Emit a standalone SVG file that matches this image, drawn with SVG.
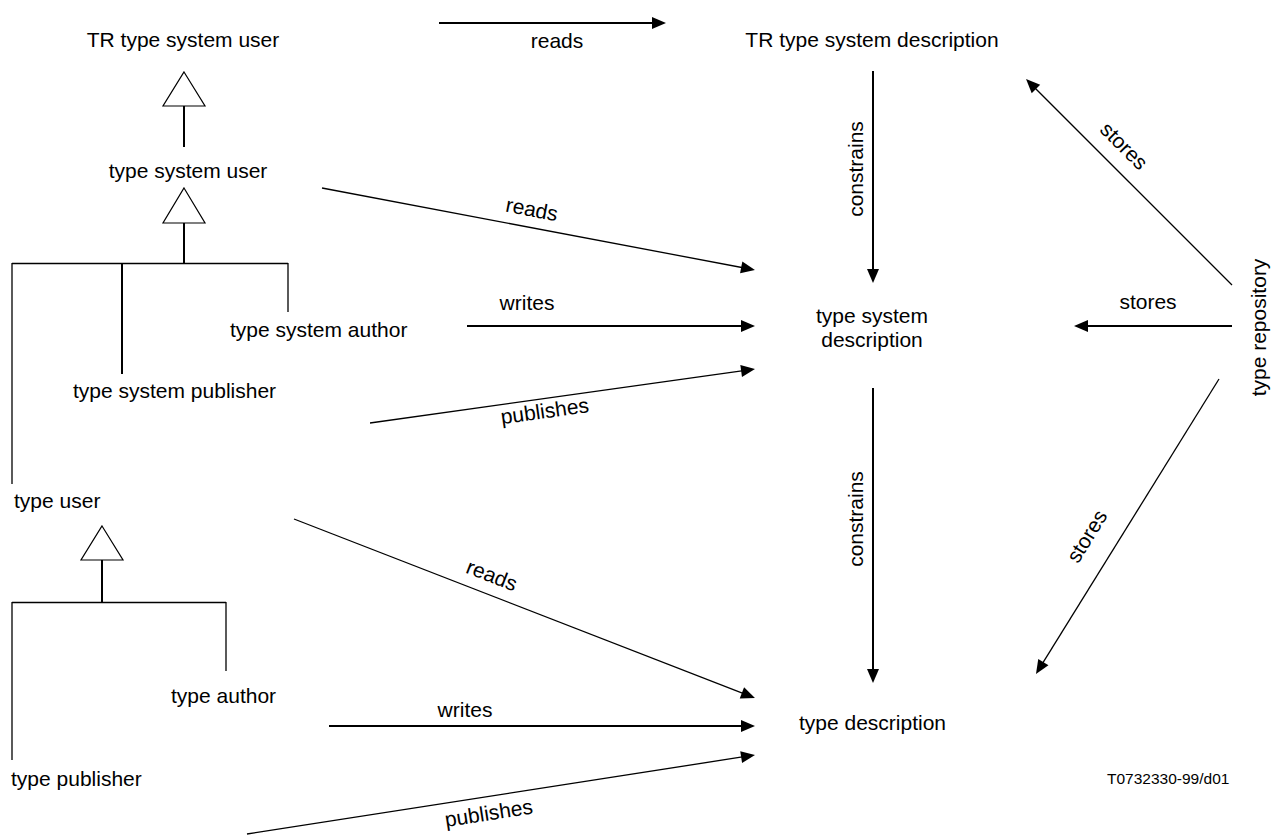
<svg xmlns="http://www.w3.org/2000/svg" width="1280" height="835" viewBox="0 0 1280 835">
<style>
text{font-family:"Liberation Sans",Arial,sans-serif;font-size:21px;fill:#000}
.m{text-anchor:middle}
.thin{stroke:#000;stroke-width:1.3;fill:none}
.thick{stroke:#000;stroke-width:2;fill:none}
.tri{fill:#fff;stroke:#000;stroke-width:1.2}
.small{font-size:15.5px}
</style>
<defs>
<marker id="ah" markerUnits="userSpaceOnUse" markerWidth="14" markerHeight="12" refX="6" refY="6" orient="auto" overflow="visible">
<path d="M0,0 L14,6 L0,12 z" fill="#000"/>
</marker>
</defs>
<rect width="1280" height="835" fill="#fff"/>

<g id="hierarchy">
<line class="thick" x1="184" y1="106" x2="184" y2="147"/>
<polygon class="tri" points="184,72 205,106 163,106"/>
<line class="thick" x1="184" y1="223" x2="184" y2="263"/>
<polygon class="tri" points="184,188 205,223 163,223"/>
<line class="thin" x1="12" y1="263.5" x2="288" y2="263.5"/>
<line class="thin" x1="12" y1="263" x2="12" y2="484"/>
<line class="thick" x1="122" y1="263" x2="122" y2="374"/>
<line class="thin" x1="288" y1="263" x2="288" y2="312"/>
<line class="thick" x1="102" y1="560" x2="102" y2="602"/>
<polygon class="tri" points="102,526 123,560 81,560"/>
<line class="thin" x1="12" y1="602.5" x2="226" y2="602.5"/>
<line class="thin" x1="12" y1="602" x2="12" y2="760"/>
<line class="thin" x1="226" y1="602" x2="226" y2="671"/>
</g>

<g id="n-tr-type-system-user"><text class="m" x="183" y="47">TR type system user</text></g>
<g id="n-type-system-user"><text class="m" x="188" y="178">type system user</text></g>
<g id="n-type-system-author"><text x="230" y="337">type system author</text></g>
<g id="n-type-system-publisher"><text x="73" y="398">type system publisher</text></g>
<g id="n-type-user"><text x="14" y="508">type user</text></g>
<g id="n-type-author"><text x="171" y="703">type author</text></g>
<g id="n-type-publisher"><text x="11" y="786">type publisher</text></g>
<g id="n-tr-type-system-description"><text class="m" x="872" y="47">TR type system description</text></g>
<g id="n-type-system-description"><text class="m" x="872" y="323">type system</text><text class="m" x="872" y="347">description</text></g>
<g id="n-type-description"><text class="m" x="872.5" y="730">type description</text></g>
<g id="n-type-repository"><text class="m" transform="translate(1266,327.5) rotate(-90)">type repository</text></g>

<g id="connectors">
<line class="thick" x1="439" y1="23" x2="658" y2="23" marker-end="url(#ah)"/>
<line class="thin" x1="322" y1="188" x2="747.1" y2="268.5" marker-end="url(#ah)"/>
<line class="thick" x1="467" y1="326" x2="747" y2="326" marker-end="url(#ah)"/>
<line class="thin" x1="370" y1="423" x2="747.1" y2="370.1" marker-end="url(#ah)"/>
<line class="thick" x1="873" y1="71" x2="873" y2="275" marker-end="url(#ah)"/>
<line class="thick" x1="873" y1="388" x2="873" y2="675" marker-end="url(#ah)"/>
<line class="thin" x1="1232" y1="285" x2="1031.7" y2="84.7" marker-end="url(#ah)"/>
<line class="thick" x1="1232" y1="326" x2="1082" y2="326" marker-end="url(#ah)"/>
<line class="thin" x1="1219" y1="379" x2="1040.2" y2="667.2" marker-end="url(#ah)"/>
<line class="thin" x1="294" y1="519" x2="747.5" y2="695.1" marker-end="url(#ah)"/>
<line class="thick" x1="329" y1="726" x2="747" y2="726" marker-end="url(#ah)"/>
<line class="thin" x1="247" y1="834" x2="747.1" y2="756.2" marker-end="url(#ah)"/>

<text class="m" x="557" y="48">reads</text>
<text class="m" transform="translate(530.6,216.4) rotate(10.7)">reads</text>
<text class="m" x="527" y="310">writes</text>
<text class="m" transform="translate(545.7,418.2) rotate(-8)">publishes</text>
<text class="m" transform="translate(863,169) rotate(-90)">constrains</text>
<text class="m" transform="translate(863,519) rotate(-90)">constrains</text>
<text class="m" transform="translate(1119,151) rotate(45)">stores</text>
<text class="m" x="1148" y="309">stores</text>
<text class="m" transform="translate(1093,540) rotate(-58.2)">stores</text>
<text class="m" transform="translate(489.3,582) rotate(21.2)">reads</text>
<text class="m" x="465" y="717">writes</text>
<text class="m" transform="translate(489.8,820.2) rotate(-8.84)">publishes</text>
</g>

<text class="small" x="1107" y="784">T0732330-99/d01</text>
</svg>
